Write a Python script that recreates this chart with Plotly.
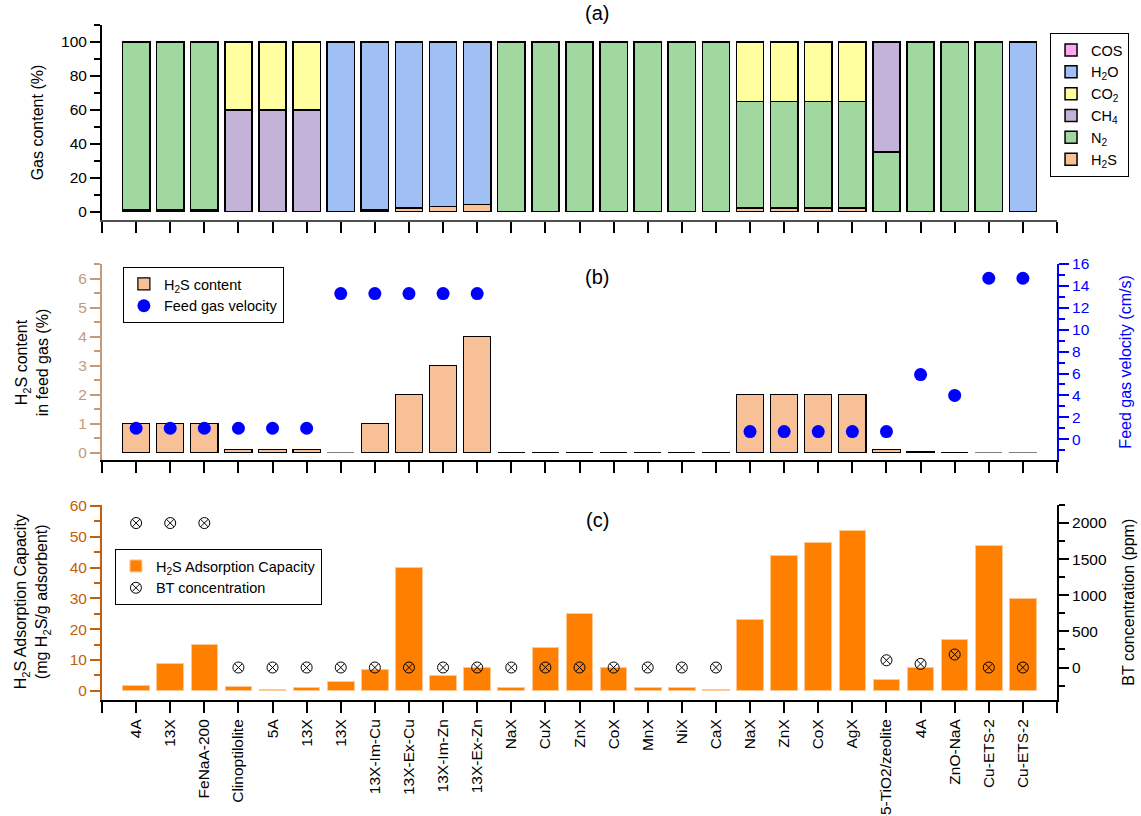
import plotly.graph_objects as go

# ---------------- data ----------------
categories = ["4A", "13X", "FeNaA-200", "Clinoptilolite", "5A", "13X", "13X",
              "13X-Im-Cu", "13X-Ex-Cu", "13X-Im-Zn", "13X-Ex-Zn", "NaX", "CuX",
              "ZnX", "CoX", "MnX", "NiX", "CaX", "NaX", "ZnX", "CoX", "AgX",
              "Zn-5-TiO2/zeolite", "4A", "ZnO-NaA", "Cu-ETS-2", "Cu-ETS-2"]

# (a) gas composition (%)
gas_h2s = [1, 1, 1, 0.1, 0.1, 0.1, 0, 1, 2, 3, 4, 0, 0, 0, 0, 0, 0, 0, 2, 2, 2, 2, 0.1, 0.05, 0, 0, 0]
gas_n2 = [99, 99, 99, 0, 0, 0, 0, 0, 0, 0, 0, 100, 100, 100, 100, 100, 100, 100, 63, 63, 63, 63, 35, 99.95, 100, 100, 0]
gas_ch4 = [0, 0, 0, 59.9, 59.9, 59.9, 0, 0, 0, 0, 0, 0, 0, 0, 0, 0, 0, 0, 0, 0, 0, 0, 64.9, 0, 0, 0, 0]
gas_co2 = [0, 0, 0, 40, 40, 40, 0, 0, 0, 0, 0, 0, 0, 0, 0, 0, 0, 0, 35, 35, 35, 35, 0, 0, 0, 0, 0]
gas_h2o = [0, 0, 0, 0, 0, 0, 100, 99, 98, 97, 96, 0, 0, 0, 0, 0, 0, 0, 0, 0, 0, 0, 0, 0, 0, 0, 100]
gas_cos = [0] * 27

# (b) H2S content (%) and feed gas velocity (cm/s)
h2s_content = [1, 1, 1, 0.1, 0.1, 0.1, 0, 1, 2, 3, 4, 0, 0, 0, 0, 0, 0, 0, 2, 2, 2, 2, 0.1, 0.05, 0, 0, 0]
feed_velocity = [1, 1, 1, 1, 1, 1, 13.3, 13.3, 13.3, 13.3, 13.3, None, None, None, None, None, None, None,
                 0.7, 0.7, 0.7, 0.7, 0.7, 5.9, 4.0, 14.7, 14.7]

# (c) H2S adsorption capacity (mg/g) and BT concentration (ppm)
capacity = [1.7, 9, 15, 1.4, 0.55, 1.0, 3.0, 7, 40, 5, 7.5, 1.0, 14, 25, 7.5, 1.2, 1.0, 0.5,
            23, 44, 48, 52, 3.5, 7.5, 16.5, 47, 30]
bt_conc = [2000, 2000, 2000, 0, 0, 0, 0, 0, 0, 0, 0, 0, 0, 0, 0, 0, 0, 0, None, None, None, None,
           100, 50, 180, 0, 0]

xpos = list(range(1, len(categories) + 1))

# ---------------- layout helpers ----------------
W, H = 1141, 816
ML, MR, MT, MB = 102, 79, 25, 116
PW, PH = W - ML - MR, H - MT - MB


def px(xp):
    return (xp - ML) / PW


def py(yp):
    return 1 - (yp - MT) / PH


FONT = "Liberation Sans, Arial, sans-serif"
TAN = "#C49A78"
ORG = "#C0600A"
TICK = 15.5
LEG = 14.5
TITLE = 16

fig = go.Figure()

# ---------- (a) ----------
stack = [("H<sub>2</sub>S", gas_h2s, "#F9C295"),
         ("N<sub>2</sub>", gas_n2, "#A0D8A0"),
         ("CH<sub>4</sub>", gas_ch4, "#C3B3D9"),
         ("CO<sub>2</sub>", gas_co2, "#FFFFA0"),
         ("H<sub>2</sub>O", gas_h2o, "#A0C0F5"),
         ("COS", gas_cos, "#FFA8F2")]
for name, vals, col in stack:
    fig.add_trace(go.Bar(x=xpos, y=vals, name=name, width=0.8,
                         marker=dict(color=col, line=dict(color="black", width=1.5)),
                         xaxis="x", yaxis="y", legend="legend"))

# ---------- (b) ----------
zero_line_cols = ["black"] * 27
for i in (6, 25, 26):
    zero_line_cols[i] = "#808080"
fig.add_trace(go.Bar(x=xpos, y=h2s_content, name="H<sub>2</sub>S content", width=0.8,
                     marker=dict(color="#F8C096", line=dict(color=zero_line_cols, width=1.2)),
                     xaxis="x2", yaxis="y2", legend="legend2"))
fig.add_trace(go.Scatter(x=xpos, y=feed_velocity, name="Feed gas velocity", mode="markers",
                         marker=dict(color="#0000FF", size=13),
                         xaxis="x2", yaxis="y4", legend="legend2"))

# ---------- (c) ----------
fig.add_trace(go.Bar(x=xpos, y=capacity, name="H<sub>2</sub>S Adsorption Capacity", width=0.78,
                     marker=dict(color="#FF8000", line=dict(color="#FFC890", width=1)),
                     xaxis="x3", yaxis="y3", legend="legend3"))
fig.add_trace(go.Scatter(x=xpos, y=bt_conc, name="BT concentration", mode="markers",
                         marker=dict(symbol="circle-x-open", color="black", size=11, line=dict(width=1)),
                         xaxis="x3", yaxis="y5", legend="legend3"))

tickfont = dict(family=FONT, size=TICK, color="black")
xcommon = dict(range=[0, 28], tickvals=list(range(0, 29)), ticks="outside", ticklen=11,
               tickwidth=2, showline=True, linewidth=2, tickcolor="black",
               showgrid=False, zeroline=False, automargin=False)

dom_a = [py(220), py(25)]
dom_b = [py(460), py(264)]
dom_c = [py(700), py(505)]

ycommon = dict(ticks="outside", ticklen=10, tickwidth=2, showline=True, linewidth=2,
               showgrid=False, zeroline=False, automargin=False)

legcommon = dict(xanchor="left", yanchor="top", bordercolor="black", borderwidth=1, bgcolor="white",
                 font=dict(family=FONT, size=LEG), itemwidth=30, tracegroupgap=0)

fig.update_layout(
    width=W, height=H, template="none",
    margin=dict(l=ML, r=MR, t=MT, b=MB),
    paper_bgcolor="white", plot_bgcolor="white",
    font=dict(family=FONT, size=TICK, color="black"),
    barmode="stack", bargap=0.2,
    showlegend=True,
    xaxis=dict(**xcommon, anchor="y", showticklabels=False, linecolor="#505050"),
    xaxis2=dict(**xcommon, anchor="y2", showticklabels=False, linecolor="black"),
    xaxis3=dict(**xcommon, anchor="y3", showticklabels=True, linecolor="black",
                ticktext=[""] + categories + [""], tickangle=-90, tickfont=tickfont),
    yaxis=dict(**ycommon, domain=dom_a, anchor="x", range=[-5, 110], tickvals=[0, 20, 40, 60, 80, 100],
               linecolor="black", tickcolor="black", tickfont=tickfont,
               minor=dict(dtick=10, tick0=0, ticks="outside", ticklen=6, tickwidth=2, tickcolor="black")),
    yaxis2=dict(**ycommon, domain=dom_b, anchor="x2", range=[-0.25, 6.5], tickvals=[0, 1, 2, 3, 4, 5, 6],
                linecolor=TAN, tickcolor=TAN, tickfont=dict(family=FONT, size=TICK, color=TAN),
                minor=dict(dtick=0.5, tick0=0, ticks="outside", ticklen=6, tickwidth=2, tickcolor=TAN)),
    yaxis4=dict(**ycommon, overlaying="y2", side="right", anchor="x2", range=[-1.9, 16],
                tickvals=[0, 2, 4, 6, 8, 10, 12, 14, 16],
                linecolor="#0000FF", tickcolor="#0000FF", tickfont=dict(family=FONT, size=TICK, color="#0000FF"),
                minor=dict(dtick=1, tick0=0, ticks="outside", ticklen=6, tickwidth=2, tickcolor="#0000FF")),
    yaxis3=dict(**ycommon, domain=dom_c, anchor="x3", range=[-3, 60.3], tickvals=[0, 10, 20, 30, 40, 50, 60],
                linecolor=ORG, tickcolor=ORG, tickfont=dict(family=FONT, size=TICK, color=ORG),
                minor=dict(dtick=5, tick0=0, ticks="outside", ticklen=6, tickwidth=2, tickcolor=ORG)),
    yaxis5=dict(**ycommon, overlaying="y3", side="right", anchor="x3", range=[-450, 2250],
                tickvals=[0, 500, 1000, 1500, 2000],
                linecolor="black", tickcolor="black", tickfont=tickfont,
                minor=dict(dtick=250, tick0=0, ticks="outside", ticklen=6, tickwidth=2, tickcolor="black")),
    legend=dict(**legcommon, x=px(1055), y=py(33), traceorder="reversed"),
    legend2=dict(**legcommon, x=px(123), y=py(267), traceorder="normal"),
    legend3=dict(**legcommon, x=px(115), y=py(549), traceorder="normal"),
)

ann = [
    dict(text="(a)", x=px(600), y=py(13), font=dict(size=20)),
    dict(text="(b)", x=px(600), y=py(277), font=dict(size=20)),
    dict(text="(c)", x=px(600), y=py(520), font=dict(size=20)),
    dict(text="Gas content (%)", x=px(38), y=py(122), textangle=-90, font=dict(size=TITLE)),
    dict(text="H<sub>2</sub>S content<br>in feed gas (%)", x=px(32), y=py(362), textangle=-90,
         font=dict(size=TITLE)),
    dict(text="Feed gas velocity (cm/s)", x=px(1130), y=py(362), textangle=-90,
         font=dict(size=TITLE, color="#0000FF")),
    dict(text="H<sub>2</sub>S Adsorption Capacity<br>(mg H<sub>2</sub>S/g adsorbent)", x=px(32), y=py(602),
         textangle=-90, font=dict(size=TITLE)),
    dict(text="BT concentration (ppm)", x=px(1133), y=py(602), textangle=-90, font=dict(size=TITLE)),
]
for a in ann:
    a.update(xref="paper", yref="paper", showarrow=False, xanchor="center", yanchor="middle")
    a["font"] = dict(family=FONT, **a["font"])
    fig.add_annotation(**a)

fig.write_html("out.html")
